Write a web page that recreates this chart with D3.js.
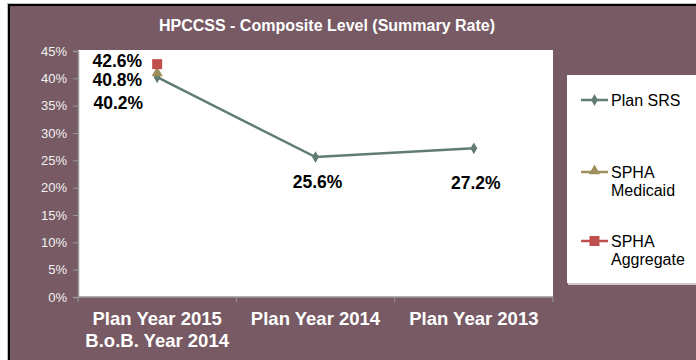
<!DOCTYPE html>
<html>
<head>
<meta charset="utf-8">
<script src="https://cdn.jsdelivr.net/npm/d3@7"></script>
<style>
  html, body { margin: 0; padding: 0; background: #ffffff; }
  svg { display: block; font-family: Arial, "Liberation Sans", sans-serif; }
</style>
</head>
<body>
<svg id="chart" width="696" height="360"></svg>
<script>
// Chart data
const title = "HPCCSS - Composite Level (Summary Rate)";
const categories = ["Plan Year 2015\nB.o.B. Year 2014", "Plan Year 2014", "Plan Year 2013"];
const planSRS = [40.2, 25.6, 27.2];
const sphaMedicaid = [40.8, null, null];
const sphaAggregate = [42.6, null, null];
const yTicks = [0, 5, 10, 15, 20, 25, 30, 35, 40, 45];
const seriesNames = ["Plan SRS", "SPHA\nMedicaid", "SPHA\nAggregate"];

const bg = "#775A64";
const colors = ["#617C70", "#9C8F5C", "#C0504D"];

const svg = d3.select("#chart");
const W = 696, H = 360;

// Frame
svg.append("rect").attr("x", 0).attr("y", 0).attr("width", W).attr("height", H).attr("fill", "#ffffff");
svg.append("rect").attr("x", 10).attr("y", 6).attr("width", W - 10).attr("height", H - 6).attr("fill", bg);
svg.append("line").attr("x1", 9).attr("x2", 9).attr("y1", 5).attr("y2", H).attr("stroke", "#000").attr("stroke-width", 2);
svg.append("line").attr("x1", 8).attr("x2", W).attr("y1", 5).attr("y2", 5).attr("stroke", "#000").attr("stroke-width", 2);
svg.append("line").attr("x1", 7.5).attr("x2", 7.5).attr("y1", 4).attr("y2", H).attr("stroke", "#bbb").attr("stroke-width", 1);
svg.append("line").attr("x1", 7).attr("x2", W).attr("y1", 3.5).attr("y2", 3.5).attr("stroke", "#bbb").attr("stroke-width", 1);

// Title
svg.append("text").attr("x", 327).attr("y", 31).attr("text-anchor", "middle")
  .attr("fill", "#ffffff").attr("font-weight", "bold").attr("font-size", 16).text(title);

// Plot area
const plot = { left: 78, right: 553, top: 51, bottom: 297 };
svg.append("rect").attr("x", plot.left).attr("y", plot.top - 1)
  .attr("width", plot.right - plot.left).attr("height", plot.bottom - plot.top + 1).attr("fill", "#ffffff");

const x = d3.scaleBand().domain(d3.range(categories.length)).range([plot.left, plot.right]);
const y = d3.scaleLinear().domain([0, 45]).range([plot.bottom, plot.top]);
const cx = i => x(i) + x.bandwidth() / 2;

// Y axis
const yAxis = svg.append("g").attr("transform", `translate(${plot.left},0)`)
  .call(d3.axisLeft(y).tickValues(yTicks).tickSize(5).tickPadding(6).tickFormat(d => d + "%"));
yAxis.select(".domain").attr("stroke", "#999").attr("stroke-width", 1.5);
yAxis.selectAll(".tick line").attr("stroke", "#999");
yAxis.selectAll(".tick text").attr("fill", "#f2f2f2").attr("font-size", 13)
  .attr("font-family", "Arial, 'Liberation Sans', sans-serif");

// X axis
const xAxis = svg.append("g").attr("transform", `translate(0,${plot.bottom})`);
xAxis.append("line").attr("x1", plot.left).attr("x2", plot.right).attr("y1", 0).attr("y2", 0)
  .attr("stroke", "#999").attr("stroke-width", 1.5);
d3.range(categories.length + 1).forEach(i => {
  const xx = i < categories.length ? x(i) : plot.right;
  xAxis.append("line").attr("x1", xx).attr("x2", xx).attr("y1", 0).attr("y2", 5).attr("stroke", "#999");
});
categories.forEach((c, i) => {
  const t = xAxis.append("text").attr("x", cx(i)).attr("y", 28).attr("text-anchor", "middle")
    .attr("fill", "#ffffff").attr("font-weight", "bold").attr("font-size", 18.5);
  c.split("\n").forEach((line, k) => {
    t.append("tspan").attr("x", cx(i)).attr("dy", k === 0 ? 0 : 22).text(line);
  });
});

// Series lines and markers
const line = d3.line().defined(d => d != null).x((d, i) => cx(i)).y(d => y(d));
svg.append("path").datum(planSRS).attr("d", line).attr("fill", "none")
  .attr("stroke", colors[0]).attr("stroke-width", 2.5);

const diamond = d3.symbol().type(d3.symbolDiamond).size(40);
const triangle = d3.symbol().type(d3.symbolTriangle).size(55);

planSRS.forEach((v, i) => {
  svg.append("path").attr("d", diamond).attr("transform", `translate(${cx(i)},${y(v)})`).attr("fill", colors[0]);
});
sphaMedicaid.forEach((v, i) => {
  if (v == null) return;
  svg.append("path").attr("d", triangle).attr("transform", `translate(${cx(i)},${y(v) - 1})`).attr("fill", colors[1]);
});
sphaAggregate.forEach((v, i) => {
  if (v == null) return;
  svg.append("rect").attr("x", cx(i) - 5).attr("y", y(v) - 5).attr("width", 10).attr("height", 10).attr("fill", colors[2]);
});

// Value labels
const fmt = v => v.toFixed(1) + "%";
const lab = (xx, yy, txt, anchor) => svg.append("text").attr("x", xx).attr("y", yy)
  .attr("text-anchor", anchor).attr("fill", "#000").attr("font-weight", "bold").attr("font-size", 17.5).text(txt);

lab(cx(0) - 15, y(sphaAggregate[0]) + 3, fmt(sphaAggregate[0]), "end");
lab(cx(0) - 15, y(sphaMedicaid[0]) + 12, fmt(sphaMedicaid[0]), "end");
lab(cx(0) - 14, y(planSRS[0]) + 32, fmt(planSRS[0]), "end");
const srsLabelDy = [0, 31, 41];
planSRS.forEach((v, i) => {
  if (i === 0) return;
  lab(cx(i) + 2, y(v) + srsLabelDy[i], fmt(v), "middle");
});

// Legend
const lg = svg.append("g");
lg.append("rect").attr("x", 568).attr("y", 76).attr("width", W - 568).attr("height", 209).attr("fill", "#d0cacc");
lg.append("rect").attr("x", 567).attr("y", 75).attr("width", W - 567).attr("height", 208).attr("fill", "#ffffff");
const legendY = [100, 172, 241];
seriesNames.forEach((name, i) => {
  const ly = legendY[i];
  lg.append("line").attr("x1", 581).attr("x2", 608).attr("y1", ly).attr("y2", ly)
    .attr("stroke", colors[i]).attr("stroke-width", 2.5);
  if (i === 0) lg.append("path").attr("d", diamond).attr("transform", `translate(594.5,${ly})`).attr("fill", colors[0]);
  if (i === 1) lg.append("path").attr("d", triangle).attr("transform", `translate(594.5,${ly - 1})`).attr("fill", colors[1]);
  if (i === 2) lg.append("rect").attr("x", 589.5).attr("y", ly - 5).attr("width", 10).attr("height", 10).attr("fill", colors[2]);
  const t = lg.append("text").attr("x", 611).attr("y", ly + 6).attr("fill", "#000").attr("font-size", 16);
  name.split("\n").forEach((part, k) => {
    t.append("tspan").attr("x", 611).attr("dy", k === 0 ? 0 : 18).text(part);
  });
});
</script>
</body>
</html>
